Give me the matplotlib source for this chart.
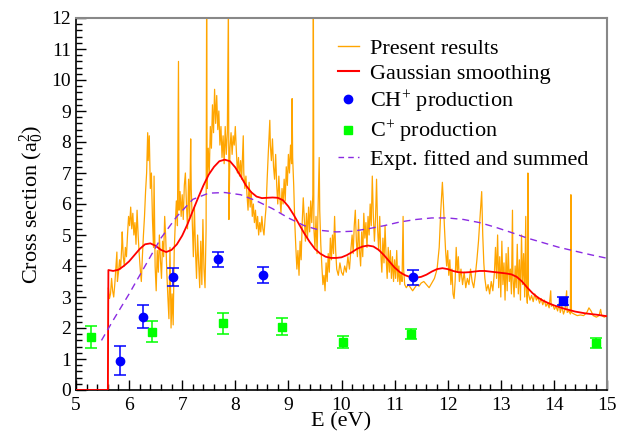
import matplotlib
matplotlib.use("Agg")
import matplotlib.pyplot as plt
from matplotlib.ticker import MultipleLocator
from matplotlib.lines import Line2D

plt.rcParams['font.family'] = ['Liberation Serif', 'DejaVu Serif']
plt.rcParams['mathtext.fontset'] = 'custom'
plt.rcParams['mathtext.rm'] = 'Liberation Serif'
plt.rcParams['mathtext.it'] = 'Liberation Serif:italic'

# Present results
present = [
    (5.00, 0), (5.60, 0), (5.61, 3.3), (5.63, 2.95), (5.65, 3.1), (5.67, 3.6), (5.69, 3.2),
    (5.71, 3.0), (5.73, 3.4), (5.75, 3.9), (5.77, 4.45), (5.78, 3.5), (5.80, 3.8), (5.82, 4.2),
    (5.84, 3.9), (5.86, 4.6), (5.87, 5.1), (5.89, 4.3), (5.91, 4.0), (5.93, 4.6), (5.95, 4.3),
    (5.97, 5.0), (5.99, 5.6), (6.01, 5.3), (6.03, 5.9), (6.05, 5.2), (6.07, 5.7), (6.09, 5.0),
    (6.11, 5.4), (6.13, 4.7), (6.15, 5.8), (6.17, 5.0), (6.19, 4.4), (6.21, 3.9), (6.23, 3.5),
    (6.25, 4.3), (6.27, 5.0), (6.29, 5.6), (6.31, 6.4), (6.33, 7.0), (6.35, 8.3), (6.36, 7.4),
    (6.38, 8.2), (6.40, 6.5), (6.42, 7.0), (6.44, 5.5), (6.46, 4.6), (6.47, 6.9), (6.49, 4.0),
    (6.51, 3.2), (6.53, 4.5), (6.55, 3.8), (6.57, 5.0), (6.59, 4.2), (6.61, 3.6), (6.63, 4.8),
    (6.65, 4.3), (6.67, 5.6), (6.69, 4.9), (6.71, 3.8), (6.73, 3.0), (6.75, 2.3), (6.77, 4.6),
    (6.79, 2.0), (6.81, 3.1), (6.83, 2.1), (6.85, 4.5), (6.87, 5.4), (6.89, 6.1), (6.91, 5.3),
    (6.93, 10.6), (6.94, 5.8), (6.96, 6.4), (6.98, 5.6), (7.00, 6.3), (7.02, 5.5), (7.04, 6.6),
    (7.06, 7.0), (7.08, 6.0), (7.10, 5.2), (7.12, 6.8), (7.14, 5.6), (7.16, 8.1), (7.17, 6.5),
    (7.19, 5.4), (7.21, 4.3), (7.23, 5.9), (7.25, 4.5), (7.27, 3.6), (7.29, 5.0), (7.31, 4.1),
    (7.33, 3.3), (7.35, 4.8), (7.37, 3.4), (7.39, 5.5), (7.41, 3.9), (7.43, 3.3), (7.45, 5.2),
    (7.46, 12.5), (7.47, 6.5), (7.49, 7.8), (7.51, 7.0), (7.53, 8.5), (7.55, 7.8), (7.57, 9.2),
    (7.59, 8.3), (7.61, 9.7), (7.63, 8.6), (7.65, 9.5), (7.67, 8.4), (7.69, 9.0), (7.71, 7.9),
    (7.73, 8.5), (7.75, 7.5), (7.77, 8.2), (7.79, 7.3), (7.81, 8.5), (7.83, 7.6), (7.85, 8.3),
    (7.87, 12.5), (7.88, 5.5), (7.90, 7.8), (7.92, 8.3), (7.94, 7.6), (7.96, 8.2), (7.98, 7.9),
    (8.00, 8.5), (8.02, 7.7), (8.04, 7.0), (8.06, 7.5), (8.08, 6.9), (8.10, 7.4), (8.12, 6.8),
    (8.15, 8.2), (8.16, 7.0), (8.18, 6.5), (8.20, 6.9), (8.22, 6.3), (8.24, 5.8), (8.26, 6.7),
    (8.28, 5.9), (8.30, 6.4), (8.32, 5.6), (8.34, 6.0), (8.36, 5.4), (8.38, 5.8), (8.40, 5.2),
    (8.42, 5.6), (8.44, 5.0), (8.46, 5.4), (8.48, 5.1), (8.50, 5.6), (8.52, 5.2), (8.54, 5.0),
    (8.56, 5.5), (8.58, 5.9), (8.60, 6.8), (8.62, 7.6), (8.65, 8.7), (8.66, 7.9), (8.68, 7.4),
    (8.70, 8.1), (8.72, 7.2), (8.74, 6.8), (8.76, 7.6), (8.78, 6.6), (8.80, 6.0), (8.82, 6.9),
    (8.84, 6.2), (8.86, 5.7), (8.88, 6.5), (8.90, 6.0), (8.92, 6.8), (8.94, 6.1), (8.96, 7.2),
    (8.98, 6.6), (9.00, 7.6), (9.02, 7.0), (9.04, 7.9), (9.06, 7.3), (9.07, 9.4), (9.08, 7.5),
    (9.10, 6.6), (9.12, 5.4), (9.14, 4.6), (9.16, 3.9), (9.18, 4.5), (9.20, 3.7), (9.22, 4.8),
    (9.24, 4.2), (9.26, 5.4), (9.28, 6.2), (9.30, 5.5), (9.32, 4.8), (9.34, 5.7), (9.36, 4.9),
    (9.38, 5.9), (9.40, 5.1), (9.42, 6.1), (9.44, 5.4), (9.46, 6.3), (9.47, 12.5), (9.48, 5.2),
    (9.50, 4.6), (9.52, 5.6), (9.54, 4.4), (9.56, 6.0), (9.58, 7.5), (9.59, 5.8), (9.61, 4.7),
    (9.63, 4.0), (9.65, 3.4), (9.67, 3.7), (9.69, 3.2), (9.71, 4.1), (9.73, 3.5), (9.75, 4.4),
    (9.77, 3.8), (9.79, 4.9), (9.81, 4.2), (9.83, 5.0), (9.85, 4.4), (9.87, 5.6), (9.89, 4.5),
    (9.91, 3.9), (9.94, 3.7), (9.97, 4.1), (10.00, 3.8), (10.03, 3.7), (10.06, 4.0), (10.09, 3.8),
    (10.12, 4.3), (10.15, 3.9), (10.18, 4.6), (10.20, 5.0), (10.22, 4.4), (10.24, 5.3), (10.26, 5.8),
    (10.28, 4.8), (10.30, 4.3), (10.32, 5.5), (10.34, 4.5), (10.36, 4.0), (10.38, 5.1), (10.40, 4.3),
    (10.42, 5.7), (10.44, 4.9), (10.46, 5.4), (10.48, 4.6), (10.50, 5.6), (10.52, 5.0), (10.54, 6.0),
    (10.56, 5.3), (10.58, 6.9), (10.60, 5.6), (10.62, 4.8), (10.64, 5.5), (10.66, 6.8), (10.68, 5.2),
    (10.70, 4.5), (10.72, 5.6), (10.74, 4.4), (10.76, 3.8), (10.78, 4.9), (10.80, 4.1), (10.82, 5.3),
    (10.84, 4.3), (10.86, 3.6), (10.88, 4.6), (10.90, 3.8), (10.92, 4.5), (10.94, 3.6), (10.96, 4.3),
    (10.98, 3.5), (11.00, 4.2), (11.02, 3.6), (11.04, 4.5), (11.06, 3.5), (11.08, 4.0), (11.10, 3.4),
    (11.12, 3.8), (11.14, 3.5), (11.16, 5.6), (11.17, 3.9), (11.19, 3.4), (11.22, 3.3), (11.26, 3.4),
    (11.30, 3.3), (11.34, 3.2), (11.38, 3.3), (11.42, 3.4), (11.46, 3.35), (11.50, 3.45), (11.55, 3.5),
    (11.60, 3.4), (11.65, 3.3), (11.70, 3.45), (11.75, 3.6), (11.80, 3.9), (11.84, 4.6), (11.87, 5.8),
    (11.90, 6.7), (11.92, 6.0), (11.94, 5.2), (11.96, 4.5), (11.98, 4.0), (12.00, 4.5), (12.02, 3.7),
    (12.04, 4.2), (12.06, 3.4), (12.08, 3.9), (12.10, 3.1), (12.12, 2.95), (12.14, 3.5), (12.16, 4.6),
    (12.18, 3.8), (12.20, 4.3), (12.22, 3.5), (12.25, 3.9), (12.28, 3.4), (12.31, 3.8), (12.34, 3.3),
    (12.37, 3.6), (12.40, 3.4), (12.43, 3.9), (12.46, 3.5), (12.49, 3.3), (12.52, 3.7), (12.55, 4.2),
    (12.58, 4.8), (12.61, 5.6), (12.64, 6.4), (12.66, 5.0), (12.68, 4.1), (12.70, 3.6), (12.73, 3.2),
    (12.76, 3.4), (12.79, 3.1), (12.82, 3.5), (12.85, 3.2), (12.88, 3.8), (12.90, 4.6), (12.92, 3.6),
    (12.94, 5.0), (12.96, 3.3), (12.98, 4.3), (13.00, 3.0), (13.02, 4.8), (13.04, 3.4), (13.06, 4.1),
    (13.08, 2.9), (13.10, 4.4), (13.12, 3.2), (13.14, 4.6), (13.16, 3.5), (13.18, 3.9), (13.20, 3.1),
    (13.22, 5.8), (13.23, 3.6), (13.25, 3.0), (13.27, 4.0), (13.29, 3.3), (13.31, 4.7), (13.33, 3.1),
    (13.35, 4.2), (13.37, 2.9), (13.39, 5.0), (13.41, 3.4), (13.43, 4.4), (13.45, 3.0), (13.47, 5.6),
    (13.48, 3.3), (13.50, 2.8), (13.51, 7.0), (13.52, 3.1), (13.55, 2.9), (13.58, 3.05), (13.61, 2.85),
    (13.64, 3.1), (13.67, 2.9), (13.70, 3.0), (13.73, 2.8), (13.76, 2.95), (13.79, 2.75), (13.82, 2.9),
    (13.85, 2.7), (13.88, 2.8), (13.91, 2.65), (13.94, 3.2), (13.95, 2.7), (13.98, 2.75), (14.01, 2.6),
    (14.04, 2.7), (14.07, 2.55), (14.10, 2.8), (14.12, 2.5), (14.15, 2.7), (14.18, 2.45), (14.21, 2.6),
    (14.24, 3.2), (14.25, 2.5), (14.28, 2.55), (14.31, 2.45), (14.32, 6.3), (14.33, 2.5), (14.38, 2.45),
    (14.44, 2.4), (14.50, 2.42), (14.56, 2.4), (14.62, 2.5), (14.66, 2.65), (14.70, 2.55), (14.74, 2.4),
    (14.80, 2.35), (14.85, 2.4), (14.88, 2.6), (14.90, 2.4), (14.95, 2.35), (15.00, 2.4),
]
present_E = [p[0] for p in present]
present_s = [p[1] for p in present]

# Gaussian smoothing
gauss_E = [5.0, 5.60, 5.61, 5.7, 5.8, 5.9, 6.0, 6.1, 6.2, 6.3, 6.4, 6.5, 6.6, 6.7, 6.8, 6.9, 7.0,
           7.1, 7.2, 7.3, 7.4, 7.5, 7.6, 7.7, 7.8, 7.9, 8.0, 8.1, 8.2, 8.3, 8.4, 8.5, 8.6, 8.7,
           8.8, 8.9, 9.0, 9.1, 9.2, 9.3, 9.4, 9.5, 9.6, 9.7, 9.8, 9.9, 10.0, 10.1, 10.2, 10.3,
           10.4, 10.5, 10.6, 10.7, 10.8, 10.9, 11.0, 11.1, 11.2, 11.3, 11.4, 11.5, 11.6, 11.7,
           11.8, 11.9, 12.0, 12.1, 12.2, 12.3, 12.4, 12.5, 12.6, 12.7, 12.8, 12.9, 13.0, 13.1,
           13.2, 13.3, 13.4, 13.5, 13.6, 13.7, 13.8, 13.9, 14.0, 14.2, 14.4, 14.6, 14.8, 15.0]
gauss_s = [0.0, 0.0, 3.87, 3.84, 3.88, 4.0, 4.15, 4.35, 4.55, 4.7, 4.73, 4.65, 4.52, 4.45,
           4.52, 4.7, 4.98, 5.35, 5.78, 6.2, 6.6, 6.95, 7.2, 7.38, 7.43, 7.38, 7.18, 6.9,
           6.6, 6.38, 6.24, 6.19, 6.2, 6.21, 6.2, 6.12, 5.92, 5.65, 5.35, 5.05, 4.78, 4.55,
           4.4, 4.3, 4.26, 4.26, 4.28, 4.35, 4.45, 4.56, 4.63, 4.66, 4.63, 4.52, 4.35, 4.15,
           3.95, 3.8, 3.7, 3.64, 3.62, 3.65, 3.72, 3.82, 3.9, 3.93, 3.9, 3.84, 3.8, 3.79, 3.8,
           3.82, 3.84, 3.84, 3.82, 3.8, 3.78, 3.76, 3.73, 3.65, 3.5, 3.3, 3.12, 2.98, 2.88,
           2.8, 2.73, 2.62, 2.53, 2.47, 2.43, 2.38]

# Expt. fitted and summed
expt_E = [5.48, 5.7, 6.0, 6.3, 6.6, 6.9, 7.2, 7.5, 7.8, 8.1, 8.4, 8.7, 9.0, 9.3, 9.6, 9.9,
          10.2, 10.5, 10.8, 11.1, 11.4, 11.7, 12.0, 12.3, 12.6, 12.9, 13.2, 13.5, 13.8, 14.1,
          14.4, 14.7, 15.0]
expt_s = [1.6, 2.25, 3.1, 4.0, 4.9, 5.6, 6.15, 6.35, 6.37, 6.3, 6.1, 5.85, 5.55, 5.3, 5.15,
          5.1, 5.12, 5.2, 5.3, 5.42, 5.5, 5.55, 5.55, 5.5, 5.4, 5.25, 5.08, 4.9, 4.75, 4.6,
          4.48, 4.36, 4.25]

# CH+ production
ch_E = [5.82, 6.27, 6.82, 7.68, 8.53, 11.35, 14.17]
ch_s = [0.95, 2.37, 3.66, 4.21, 3.71, 3.63, 2.87]
ch_err = [0.47, 0.38, 0.29, 0.23, 0.26, 0.24, 0.12]
ch_markers = ['o', 'o', 'o', 'o', 'o', 'o', 's']

# C+ production
c_E = [5.28, 6.43, 7.76, 8.88, 10.03, 11.31, 14.80]
c_s = [1.72, 1.88, 2.15, 2.04, 1.55, 1.80, 1.53]
c_err = [0.35, 0.33, 0.35, 0.28, 0.20, 0.17, 0.16]

labels = ['Present results', 'Gaussian smoothing', 'CH$^{+}$ production',
          'C$^{+}$ production', 'Expt. fitted and summed']

fig = plt.figure(figsize=(6.2, 4.37), dpi=100)
ax = fig.add_axes([76/620, 1-390/437, (607-76)/620, (390-18)/437])

ax.plot(present_E, present_s, color='#FFA500', lw=0.9, zorder=2)
ax.plot(gauss_E, gauss_s, color='#FF0000', lw=1.3, zorder=3)
for i in range(len(ch_E)):
    ax.errorbar([ch_E[i]], [ch_s[i]], yerr=[ch_err[i]], fmt=ch_markers[i], color='#0000FF',
                ms=6, capsize=4, elinewidth=1.1, capthick=1.1, zorder=4)
ax.errorbar(c_E, c_s, yerr=c_err, fmt='s', color='#00FF00', ms=5.5, capsize=4,
            elinewidth=1.1, capthick=1.1, zorder=4)
ax.plot(expt_E, expt_s, color='#8A2BE2', lw=1.0, dashes=(5, 3.5), zorder=3)

ax.set_xlim(5, 15)
ax.set_ylim(0, 12)
ax.xaxis.set_major_locator(MultipleLocator(1))
ax.xaxis.set_minor_locator(MultipleLocator(0.2))
ax.yaxis.set_major_locator(MultipleLocator(1))
ax.yaxis.set_minor_locator(MultipleLocator(0.2))
ax.tick_params(which='both', direction='in', top=False, right=False, labelsize=14)
ax.tick_params(which='major', length=7, width=1)
ax.tick_params(which='minor', length=4, width=1)
ax.tick_params(axis='x', pad=5)
for s in ['top', 'right']:
    ax.spines[s].set_color('#888888')
    ax.spines[s].set_linewidth(1.5)
for s in ['left', 'bottom']:
    ax.spines[s].set_linewidth(1.2)

ax.set_xlabel('E (eV)', fontsize=16, labelpad=-1)
ax.set_ylabel('Cross section (a$_0^2$)', fontsize=16, labelpad=4)

handles = [
    Line2D([], [], color='#FFA500', lw=1.0),
    Line2D([], [], color='#FF0000', lw=1.5),
    Line2D([], [], color='#0000FF', marker='o', ls='none', ms=6),
    Line2D([], [], color='#00FF00', marker='s', ls='none', ms=6),
    Line2D([], [], color='#8A2BE2', lw=1.0, dashes=(4, 3)),
]
ax.legend(handles, labels, loc='upper left', bbox_to_anchor=(0.493, 0.945), frameon=False,
          fontsize=16, handlelength=0.95, handletextpad=0.5, labelspacing=0.2,
          borderaxespad=0, borderpad=0)

fig.savefig('out.png', dpi=100)
